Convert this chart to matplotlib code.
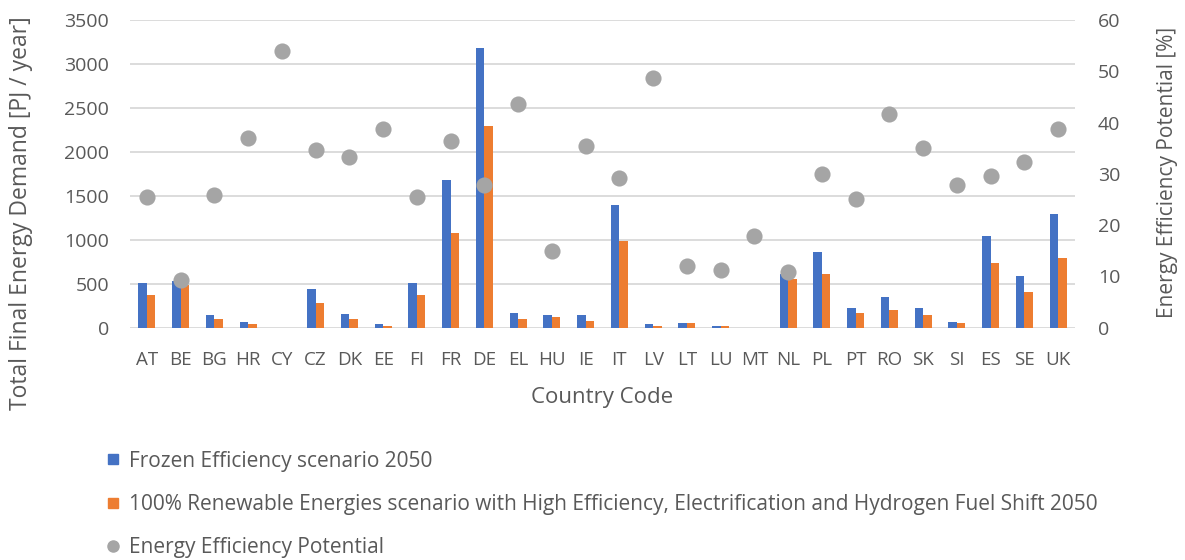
import numpy as np
import matplotlib.pyplot as plt
from matplotlib.lines import Line2D

countries = ["AT", "BE", "BG", "HR", "CY", "CZ", "DK", "EE", "FI", "FR", "DE", "EL", "HU", "IE",
             "IT", "LV", "LT", "LU", "MT", "NL", "PL", "PT", "RO", "SK", "SI", "ES", "SE", "UK"]
# final energy demand [PJ / year]
frozen_2050 = [505, 530, 141, 65, 0, 444, 152, 38, 505, 1684, 3185, 164, 141, 141,
               1392, 38, 53, 23, 0, 611, 858, 228, 346, 228, 68, 1043, 592, 1290]
renewable_2050 = [372, 482, 95, 38, 0, 284, 95, 23, 372, 1074, 2298, 95, 125, 80,
                  986, 23, 53, 23, 0, 550, 607, 171, 201, 141, 53, 736, 403, 796]
# energy efficiency potential [%]
potential = [25.5, 9.4, 25.9, 36.9, 54.0, 34.6, 33.2, 38.7, 25.4, 36.4, 27.8, 43.6, 14.9, 35.4,
             29.1, 48.6, 12.1, 11.2, 17.9, 10.9, 29.9, 25.1, 41.7, 35.1, 27.8, 29.6, 32.4, 38.7]

blue = "#4472C4"
orange = "#ED7D31"
grey = "#A5A5A5"
txt = "#595959"
plt.rcParams['font.family'] = ['Open Sans', 'DejaVu Sans']

fig = plt.figure(figsize=(11.85, 5.6), dpi=100)
ax = fig.add_axes([0.1097, 0.4148, 0.7975, 0.5495])
ax2 = ax.twinx()

x = np.arange(len(countries))
w = 0.25
ax.bar(x - w / 2, frozen_2050, w, color=blue, zorder=2)
ax.bar(x + w / 2, renewable_2050, w, color=orange, zorder=2)
ax2.scatter(x, potential, s=135, color=grey, zorder=3, linewidths=0)

ax.set_xlim(-0.5, len(countries) - 0.5)
ax.set_ylim(0, 3500)
ax2.set_ylim(0, 60)
ax.set_yticks(np.arange(0, 3501, 500))
ax2.set_yticks(np.arange(0, 61, 10))
ax.set_xticks(x)
ax.set_xticklabels(countries)
ax.yaxis.grid(True, color="#D9D9D9", linewidth=1.3)
ax.set_axisbelow(True)

for a in (ax, ax2):
    for s in a.spines.values():
        s.set_visible(False)
    a.tick_params(length=0, labelsize=14, colors=txt)
ax.tick_params(axis="y", pad=15)
ax.tick_params(axis="x", pad=17, labelsize=13.5)
ax2.tick_params(axis="y", pad=16.5)

# axis titles placed in figure pixels
fig.text(21 / 1185, 1 - 213 / 560, "Total Final Energy Demand [PJ / year]", rotation=90,
         ha="center", va="center", fontsize=16.5, color=txt)
fig.text(1167 / 1185, 1 - 172 / 560, "Energy Efficiency Potential [%]", rotation=90,
         ha="center", va="center", fontsize=15, color=txt)
fig.text(602 / 1185, 1 - 398 / 560, "Country Code", ha="center", va="center",
         fontsize=16, color=txt)

handles = [
    Line2D([], [], marker="s", color=blue, linestyle="none", markersize=7.5),
    Line2D([], [], marker="s", color=orange, linestyle="none", markersize=7.5),
    Line2D([], [], marker="o", color=grey, linestyle="none", markersize=8),
]
labels = [
    "Frozen Efficiency scenario 2050",
    "100% Renewable Energies scenario with High Efficiency, Electrification and Hydrogen Fuel Shift 2050",
    "Energy Efficiency Potential",
]
leg = fig.legend(handles, labels, loc="upper left", bbox_to_anchor=(0.082, 0.21),
                 frameon=False, fontsize=15, labelspacing=1.07, handlelength=0.7,
                 handletextpad=0.45, borderaxespad=0)
for t in leg.get_texts():
    t.set_color(txt)

fig.savefig("out.png", dpi=100)
